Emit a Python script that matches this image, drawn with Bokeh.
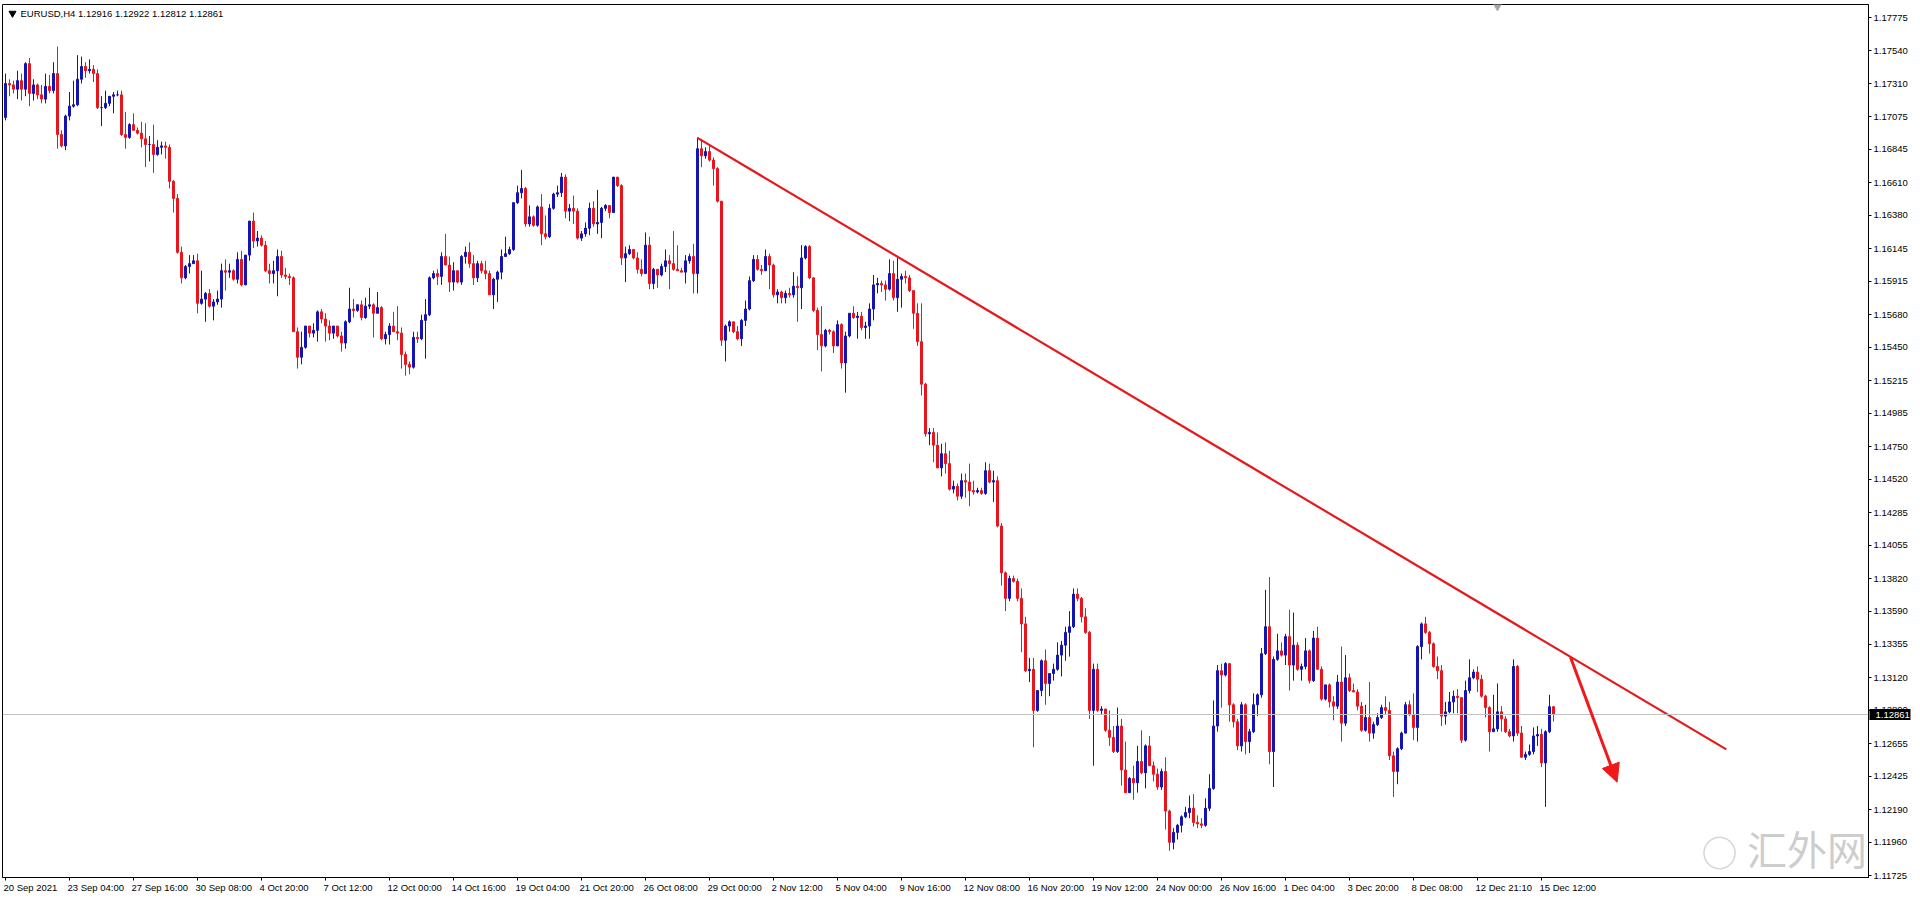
import numpy as np
from bokeh.plotting import figure
from bokeh.models import (FixedTicker, PrintfTickFormatter, Span, Label, Arrow,
                          NormalHead, ColumnDataSource, LinearAxis)
from bokeh.embed import file_html
from bokeh.resources import INLINE

# ---------------- data (EURUSD H4) ----------------
header_text = "EURUSD,H4  1.12916 1.12922 1.12812 1.12861"
last_price = 1.12861
last_open = 1.12916
first_open = 1.1707

close = [
    1.1731, 1.1730, 1.1727, 1.1733, 1.1727, 1.1745, 1.1724, 1.1730, 1.1723, 1.1720,
    1.1729, 1.1726, 1.1738, 1.1695, 1.1687, 1.1708, 1.1715, 1.1716, 1.1734, 1.1743,
    1.1740, 1.1741, 1.1738, 1.1714, 1.1714, 1.1717, 1.1722, 1.1723, 1.1723, 1.1695,
    1.1693, 1.1702, 1.1698, 1.1696, 1.1692, 1.1688, 1.1688, 1.1681, 1.1686, 1.1687,
    1.1686, 1.1662, 1.1650, 1.1612, 1.1594, 1.1602, 1.1604, 1.1606, 1.1576, 1.1579,
    1.1583, 1.1574, 1.1577, 1.1579, 1.1599, 1.1598, 1.1599, 1.1593, 1.1607, 1.1589,
    1.1610, 1.1634, 1.1620, 1.1622, 1.1617, 1.1599, 1.1597, 1.1599, 1.1609, 1.1596,
    1.1595, 1.1594, 1.1556, 1.1538, 1.1545, 1.1560, 1.1555, 1.1557, 1.1570, 1.1565,
    1.1560, 1.1555, 1.1560, 1.1553, 1.1548, 1.1563, 1.1572, 1.1571, 1.1575, 1.1566,
    1.1574, 1.1575, 1.1569, 1.1573, 1.1551, 1.1554, 1.1560, 1.1556, 1.1555,
    1.1540, 1.1533, 1.1531, 1.1552, 1.1551, 1.1564, 1.1568, 1.1594, 1.1597, 1.1595,
    1.1609, 1.1603, 1.1591, 1.1599, 1.1591, 1.1609, 1.1612, 1.1604, 1.1594, 1.1604,
    1.1599, 1.1597, 1.1582, 1.1593, 1.1598, 1.1609, 1.1611, 1.1614, 1.1647, 1.1654,
    1.1657, 1.1632, 1.1637, 1.1631, 1.1644, 1.1625, 1.1623, 1.1643, 1.1653, 1.1654,
    1.1665, 1.1641, 1.1643, 1.1641, 1.1622, 1.1625, 1.1629, 1.1643, 1.1632, 1.1633,
    1.1643, 1.1645, 1.1640, 1.1665, 1.1659, 1.1608, 1.1611, 1.1614, 1.1608, 1.1600,
    1.1597, 1.1617, 1.1590, 1.1600, 1.1596, 1.1602, 1.1606, 1.1604, 1.1600, 1.1599,
    1.1598, 1.1606, 1.1609, 1.1597, 1.1685, 1.1680, 1.1683, 1.1677, 1.1671, 1.1648,
    1.1550, 1.1560, 1.1563, 1.1556, 1.1551, 1.1564, 1.1572, 1.1592, 1.1607, 1.1600,
    1.1599, 1.1609, 1.1603, 1.1582, 1.1584,
    1.1580, 1.1583, 1.1582, 1.1588, 1.1587, 1.1608, 1.1616, 1.1594, 1.1571, 1.1554,
    1.1546, 1.1557, 1.1556, 1.1546, 1.1561, 1.1534, 1.1553, 1.1569, 1.1566, 1.1567,
    1.1559, 1.1560, 1.1572, 1.1589, 1.1590, 1.1589, 1.1586, 1.1597, 1.1580, 1.1593,
    1.1595, 1.1594, 1.1585, 1.1569, 1.1549, 1.1519, 1.1484, 1.1485, 1.1476, 1.1460,
    1.1470, 1.1463, 1.1445, 1.1447, 1.1440, 1.1451, 1.1450, 1.1444, 1.1443, 1.1444,
    1.1442, 1.1458, 1.1450, 1.1451, 1.1419, 1.1386, 1.1368, 1.1382, 1.1380, 1.1368,
    1.1350, 1.1317, 1.1318, 1.1289, 1.1303, 1.1324, 1.1308, 1.1315, 1.1318, 1.1328,
    1.1335, 1.1344, 1.1348, 1.1371, 1.1368, 1.1355, 1.1344, 1.1289, 1.1318, 1.1289,
    1.1290, 1.1275, 1.1270, 1.1260, 1.1278, 1.1247, 1.1231, 1.1241, 1.1238, 1.1253,
    1.1245, 1.1264, 1.1250, 1.1244, 1.1235, 1.1246, 1.1218, 1.1196,
    1.1203, 1.1208, 1.1214, 1.1217, 1.1220, 1.1210, 1.1209, 1.1208, 1.1220, 1.1234,
    1.1278, 1.1317, 1.1314, 1.1322, 1.1293, 1.1281, 1.1264, 1.1293, 1.1267, 1.1274,
    1.1293, 1.1300, 1.1329, 1.1348, 1.1260, 1.1325, 1.1331, 1.1328, 1.1341, 1.1321,
    1.1335, 1.1318, 1.1320, 1.1331, 1.1310, 1.1340, 1.1318, 1.1297, 1.1307, 1.1295,
    1.1292, 1.1309, 1.1280, 1.1312, 1.1303, 1.1302, 1.1292, 1.1275, 1.1284, 1.1273,
    1.1279, 1.1284, 1.1291, 1.1289, 1.1257, 1.1246, 1.1262, 1.1273, 1.1293, 1.1286,
    1.1277, 1.1334, 1.1350, 1.1344, 1.1336, 1.1320, 1.1317, 1.1285, 1.1288, 1.1295,
    1.1299, 1.1298, 1.1268, 1.1303, 1.1312, 1.1316, 1.1311, 1.1299, 1.1291, 1.1274,
    1.1276, 1.1288, 1.1283, 1.1274, 1.1271, 1.1320, 1.1273, 1.1256, 1.1258, 1.1260,
    1.1271, 1.1272, 1.1252, 1.1274, 1.12916, 1.12861,
]

high = [
    1.1738, 1.1734, 1.1733, 1.1740, 1.1738, 1.1746, 1.1749, 1.1734, 1.1731, 1.1730,
    1.1738, 1.1737, 1.1746, 1.1757, 1.1698, 1.1709, 1.1725, 1.1733, 1.1751, 1.1750,
    1.1746, 1.1748, 1.1744, 1.1741, 1.1722, 1.1726, 1.1722, 1.1725, 1.1726, 1.1726,
    1.1711, 1.1703, 1.1710, 1.1700, 1.1704, 1.1703, 1.1694, 1.1702, 1.1691, 1.1690,
    1.1690, 1.1688, 1.1663, 1.1653, 1.1616, 1.1603, 1.1610, 1.1610, 1.1611, 1.1599,
    1.1584, 1.1586, 1.1579, 1.1585, 1.1604, 1.1607, 1.1604, 1.1600, 1.1612, 1.1613,
    1.1610, 1.1634, 1.1640, 1.1627, 1.1624, 1.1620, 1.1604, 1.1606, 1.1614, 1.1613,
    1.1601, 1.1597, 1.1595, 1.1559, 1.1556, 1.1560, 1.1560, 1.1562, 1.1571, 1.1572,
    1.1569, 1.1564, 1.1560, 1.1560, 1.1556, 1.1564, 1.1587, 1.1579, 1.1575, 1.1578,
    1.1580, 1.1587, 1.1576, 1.1584, 1.1574, 1.1556, 1.1562, 1.1570, 1.1574,
    1.1559, 1.1542, 1.1535, 1.1556, 1.1556, 1.1568, 1.1579, 1.1595, 1.1599, 1.1600,
    1.1612, 1.1625, 1.1609, 1.1605, 1.1599, 1.1610, 1.1616, 1.1619, 1.1610, 1.1606,
    1.1606, 1.1606, 1.1599, 1.1594, 1.1599, 1.1614, 1.1623, 1.1616, 1.1647, 1.1659,
    1.1670, 1.1658, 1.1645, 1.1638, 1.1645, 1.1653, 1.1638, 1.1646, 1.1654, 1.1659,
    1.1668, 1.1667, 1.1646, 1.1652, 1.1643, 1.1627, 1.1633, 1.1647, 1.1648, 1.1656,
    1.1644, 1.1646, 1.1645, 1.1665, 1.1665, 1.1660, 1.1616, 1.1617, 1.1614, 1.1612,
    1.1607, 1.1626, 1.1623, 1.1601, 1.1600, 1.1604, 1.1614, 1.1610, 1.1627, 1.1617,
    1.1601, 1.1610, 1.1611, 1.1618, 1.1693, 1.1692, 1.1686, 1.1688, 1.1679, 1.1672,
    1.1648, 1.1561, 1.1564, 1.1561, 1.1560, 1.1565, 1.1578, 1.1595, 1.1610, 1.1610,
    1.1603, 1.1614, 1.1611, 1.1604, 1.1586,
    1.1585, 1.1585, 1.1587, 1.1598, 1.1595, 1.1617, 1.1617, 1.1617, 1.1594, 1.1573,
    1.1574, 1.1558, 1.1558, 1.1557, 1.1564, 1.1562, 1.1556, 1.1569, 1.1574, 1.1570,
    1.1570, 1.1563, 1.1576, 1.1596, 1.1594, 1.1592, 1.1592, 1.1607, 1.1606, 1.1608,
    1.1597, 1.1599, 1.1596, 1.1585, 1.1576, 1.1576, 1.1520, 1.1488, 1.1488, 1.1485,
    1.1477, 1.1478, 1.1472, 1.1451, 1.1449, 1.1456, 1.1456, 1.1463, 1.1451, 1.1446,
    1.1446, 1.1464, 1.1463, 1.1458, 1.1454, 1.1421, 1.1387, 1.1384, 1.1384, 1.1382,
    1.1375, 1.1355, 1.1326, 1.1326, 1.1303, 1.1325, 1.1332, 1.1315, 1.1322, 1.1337,
    1.1338, 1.1348, 1.1359, 1.1375, 1.1375, 1.1369, 1.1361, 1.1345, 1.1322, 1.1322,
    1.1292, 1.1284, 1.1289, 1.1278, 1.1291, 1.1283, 1.1267, 1.1242, 1.1250, 1.1264,
    1.1275, 1.1265, 1.1271, 1.1253, 1.1248, 1.1248, 1.1256, 1.1219,
    1.1206, 1.1209, 1.1215, 1.1221, 1.1229, 1.1230, 1.1215, 1.1213, 1.1227, 1.1244,
    1.1296, 1.1321, 1.1322, 1.1323, 1.1309, 1.1294, 1.1283, 1.1295, 1.1294, 1.1276,
    1.1301, 1.1301, 1.1333, 1.1374, 1.1383, 1.1327, 1.1343, 1.1337, 1.1343, 1.1360,
    1.1358, 1.1337, 1.1322, 1.1340, 1.1332, 1.1345, 1.1348, 1.1320, 1.1307, 1.1308,
    1.1299, 1.1314, 1.1334, 1.1328, 1.1315, 1.1308, 1.1304, 1.1295, 1.1293, 1.1309,
    1.1281, 1.1287, 1.1293, 1.1299, 1.1295, 1.1260, 1.1263, 1.1274, 1.1295, 1.1296,
    1.1301, 1.1335, 1.1351, 1.1355, 1.1345, 1.1337, 1.1327, 1.1321, 1.1295, 1.1302,
    1.1303, 1.1304, 1.1296, 1.1310, 1.1325, 1.1318, 1.1320, 1.1314, 1.1300, 1.1292,
    1.1300, 1.1308, 1.1292, 1.1285, 1.1276, 1.1325, 1.1321, 1.1278, 1.1260, 1.1265,
    1.1277, 1.1278, 1.1276, 1.1275, 1.1300, 1.12922,
]

low = [
    1.1705, 1.1722, 1.1724, 1.1720, 1.1719, 1.1722, 1.1715, 1.1719, 1.1720, 1.1717,
    1.1717, 1.1724, 1.1724, 1.1685, 1.1686, 1.1684, 1.1705, 1.1714, 1.1715, 1.1731,
    1.1735, 1.1738, 1.1732, 1.1713, 1.1701, 1.1713, 1.1715, 1.1710, 1.1722, 1.1694,
    1.1685, 1.1692, 1.1698, 1.1695, 1.1686, 1.1672, 1.1676, 1.1668, 1.1680, 1.1681,
    1.1678, 1.1657, 1.1640, 1.1611, 1.1590, 1.1593, 1.1597, 1.1604, 1.1569, 1.1575,
    1.1563, 1.1573, 1.1564, 1.1575, 1.1573, 1.1585, 1.1594, 1.1592, 1.1590, 1.1588,
    1.1589, 1.1606, 1.1615, 1.1616, 1.1616, 1.1598, 1.1590, 1.1590, 1.1581, 1.1594,
    1.1593, 1.1589, 1.1556, 1.1530, 1.1533, 1.1544, 1.1552, 1.1552, 1.1549, 1.1562,
    1.1549, 1.1550, 1.1551, 1.1552, 1.1542, 1.1544, 1.1562, 1.1566, 1.1570, 1.1564,
    1.1565, 1.1572, 1.1552, 1.1569, 1.1550, 1.1547, 1.1547, 1.1556, 1.1550,
    1.1530, 1.1525, 1.1526, 1.1530, 1.1548, 1.1550, 1.1537, 1.1567, 1.1593, 1.1589,
    1.1589, 1.1603, 1.1584, 1.1585, 1.1590, 1.1589, 1.1604, 1.1601, 1.1589, 1.1591,
    1.1597, 1.1593, 1.1582, 1.1572, 1.1577, 1.1593, 1.1609, 1.1610, 1.1613, 1.1646,
    1.1650, 1.1630, 1.1630, 1.1630, 1.1630, 1.1617, 1.1621, 1.1622, 1.1642, 1.1651,
    1.1651, 1.1636, 1.1634, 1.1632, 1.1621, 1.1620, 1.1623, 1.1624, 1.1630, 1.1625,
    1.1622, 1.1641, 1.1636, 1.1640, 1.1658, 1.1603, 1.1591, 1.1610, 1.1607, 1.1597,
    1.1595, 1.1597, 1.1586, 1.1586, 1.1587, 1.1595, 1.1598, 1.1586, 1.1599, 1.1599,
    1.1598, 1.1590, 1.1604, 1.1583, 1.1583, 1.1672, 1.1678, 1.1676, 1.1659, 1.1647,
    1.1546, 1.1535, 1.1556, 1.1555, 1.1550, 1.1546, 1.1560, 1.1571, 1.1591, 1.1599,
    1.1596, 1.1599, 1.1586, 1.1580, 1.1576,
    1.1576, 1.1576, 1.1580, 1.1580, 1.1563, 1.1572, 1.1607, 1.1593, 1.1570, 1.1543,
    1.1528, 1.1545, 1.1554, 1.1541, 1.1546, 1.1530, 1.1513, 1.1552, 1.1565, 1.1551,
    1.1557, 1.1551, 1.1551, 1.1564, 1.1583, 1.1584, 1.1578, 1.1585, 1.1578, 1.1570,
    1.1573, 1.1590, 1.1584, 1.1558, 1.1546, 1.1511, 1.1482, 1.1476, 1.1464, 1.1460,
    1.1454, 1.1456, 1.1444, 1.1442, 1.1437, 1.1438, 1.1439, 1.1433, 1.1441, 1.1442,
    1.1441, 1.1441, 1.1449, 1.1436, 1.1418, 1.1377, 1.1359, 1.1366, 1.1379, 1.1366,
    1.1330, 1.1316, 1.1309, 1.1263, 1.1288, 1.1299, 1.1293, 1.1299, 1.1310, 1.1317,
    1.1313, 1.1324, 1.1327, 1.1347, 1.1366, 1.1351, 1.1343, 1.1283, 1.1250, 1.1288,
    1.1286, 1.1274, 1.1264, 1.1259, 1.1259, 1.1236, 1.1231, 1.1231, 1.1226, 1.1231,
    1.1244, 1.1234, 1.1250, 1.1239, 1.1233, 1.1233, 1.1205, 1.1190,
    1.1191, 1.1198, 1.1203, 1.1213, 1.1213, 1.1207, 1.1206, 1.1206, 1.1207, 1.1218,
    1.1233, 1.1274, 1.1291, 1.1313, 1.1281, 1.1277, 1.1261, 1.1260, 1.1258, 1.1259,
    1.1273, 1.1285, 1.1298, 1.1328, 1.1251, 1.1235, 1.1324, 1.1327, 1.1321, 1.1303,
    1.1310, 1.1317, 1.1310, 1.1318, 1.1308, 1.1309, 1.1318, 1.1296, 1.1296, 1.1291,
    1.1282, 1.1290, 1.1267, 1.1278, 1.1302, 1.1303, 1.1289, 1.1274, 1.1274, 1.1267,
    1.1269, 1.1278, 1.1283, 1.1286, 1.1254, 1.1228, 1.1237, 1.1261, 1.1273, 1.1285,
    1.1268, 1.1267, 1.1325, 1.1343, 1.1329, 1.1319, 1.1311, 1.1278, 1.1279, 1.1287,
    1.1287, 1.1287, 1.1266, 1.1267, 1.1301, 1.1311, 1.1302, 1.1298, 1.1284, 1.1260,
    1.1274, 1.1274, 1.1274, 1.1273, 1.1270, 1.1267, 1.1271, 1.1256, 1.1254, 1.1257,
    1.1258, 1.1264, 1.1249, 1.1221, 1.1273, 1.12812,
]

xtick_bars = [0, 16, 32, 48, 64, 80, 96, 112, 128, 144, 160, 176, 192,
              208, 224, 240, 256, 272, 288, 304, 320, 336, 352, 368, 384]
xtick_labels = ["20 Sep 2021", "23 Sep 04:00", "27 Sep 16:00", "30 Sep 08:00",
                "4 Oct 20:00", "7 Oct 12:00", "12 Oct 00:00", "14 Oct 16:00",
                "19 Oct 04:00", "21 Oct 20:00", "26 Oct 08:00", "29 Oct 00:00",
                "2 Nov 12:00", "5 Nov 04:00", "9 Nov 16:00", "12 Nov 08:00",
                "16 Nov 20:00", "19 Nov 12:00", "24 Nov 00:00", "26 Nov 16:00",
                "1 Dec 04:00", "3 Dec 20:00", "8 Dec 08:00", "12 Dec 21:10",
                "15 Dec 12:00"]
ytick_values = [1.17775, 1.17540, 1.17310, 1.17075, 1.16845, 1.16610, 1.16380,
                1.16145, 1.15915, 1.15680, 1.15450, 1.15215, 1.14985, 1.14750,
                1.14520, 1.14285, 1.14055, 1.13820, 1.13590, 1.13355, 1.13120,
                1.12890, 1.12655, 1.12425, 1.12190, 1.11960, 1.11725]

# hand-drawn trend line and arrow (bar index, price)
trend_bar = [173, 430.2]
trend_price = [1.16927, 1.12615]
arrow_bar = [391.25, 402.9]
arrow_price = [1.13265, 1.12384]

assert len(close) == len(high) == len(low), (len(close), len(high), len(low))

# ---------------- build ----------------
BULL = "#1414b0"
BEAR = "#e8161c"
FONT = "Liberation Sans"
FS = 9.5

n = len(close)
x = np.arange(n)
c = np.array(close)
o = np.concatenate([[first_open], c[:-1]])
o[-1] = last_open
h = np.maximum.reduce([np.array(high), o, c])
l = np.minimum.reduce([np.array(low), o, c])
colors = [BULL if cc >= oo else BEAR for oo, cc in zip(o, c)]

src = ColumnDataSource(dict(x=x, top=np.maximum(o, c), bottom=np.minimum(o, c),
                            high=h, low=l, color=colors))

p = figure(frame_width=1866, frame_height=873,
           x_range=(-0.75, 465.75), y_range=(1.11712, 1.17867),
           y_axis_location="right", toolbar_location=None, output_backend="svg",
           min_border_left=2, min_border_top=4, min_border_right=0, min_border_bottom=0)
p.background_fill_color = "white"
p.border_fill_color = "white"
p.outline_line_color = "black"
p.outline_line_width = 1
p.grid.visible = False

p.segment(x0="x", x1="x", y0="low", y1="high", color="color", line_width=1, source=src)
p.vbar(x="x", width=0.5, top="top", bottom="bottom", fill_color="color",
       line_color="color", line_width=1, source=src)

# current price line
p.add_layout(Span(location=last_price, dimension="width", line_color="#c0c0c0", line_width=1))

# trend line and arrow
p.line(trend_bar, trend_price, line_color="#e41a1c", line_width=2.2)
p.add_layout(Arrow(end=NormalHead(size=18, fill_color="#f01818", line_color="#f01818"),
                   x_start=arrow_bar[0], y_start=arrow_price[0],
                   x_end=arrow_bar[1], y_end=arrow_price[1],
                   line_color="#f01818", line_width=3))

# ---- x axis: tick marks on the main axis, left-aligned labels on a second axis
xa = p.xaxis[0]
xa.ticker = FixedTicker(ticks=xtick_bars)
xa.major_label_overrides = {b: "" for b in xtick_bars}
xa.major_label_text_font_size = "1px"
xa.major_label_standoff = 0
xa.major_tick_out = 3
xa.major_tick_in = 0
xa.minor_tick_out = 0
xa.minor_tick_in = 0
xa.axis_line_color = "black"
xa.major_tick_line_color = "black"

# half width of each label (Liberation Sans advance widths, em units)
CW = {" ": .278, ":": .278, "S": .667, "e": .556, "p": .556, "O": .778, "c": .5,
      "t": .278, "N": .722, "o": .556, "v": .5, "D": .722}
def text_w(s):
    return sum(CW.get(ch, .556) for ch in s) * FS

PX_PER_BAR = 4.0
label_pos = [b + (text_w(t) / 2 - 2) / PX_PER_BAR for b, t in zip(xtick_bars, xtick_labels)]
xl = LinearAxis(ticker=FixedTicker(ticks=label_pos),
                major_label_overrides={pos: t for pos, t in zip(label_pos, xtick_labels)},
                axis_line_color=None, major_tick_out=0, major_tick_in=0,
                minor_tick_out=0, minor_tick_in=0, major_label_standoff=1,
                major_label_text_font=FONT, major_label_text_font_size="%spx" % FS,
                major_label_text_color="black")
p.add_layout(xl, "below")

# ---- y axis
ya = p.yaxis[0]
ya.ticker = FixedTicker(ticks=ytick_values)
ya.formatter = PrintfTickFormatter(format="%.5f")
ya.major_label_text_font = FONT
ya.major_label_text_font_size = "%spx" % FS
ya.major_label_text_color = "black"
ya.major_label_standoff = 2
ya.major_tick_out = 3
ya.major_tick_in = 0
ya.minor_tick_out = 0
ya.minor_tick_in = 0
ya.axis_line_color = "black"
ya.major_tick_line_color = "black"

# current price box on the price scale (black tick as box, white label)
pa = LinearAxis(ticker=FixedTicker(ticks=[last_price]),
                formatter=PrintfTickFormatter(format="%.5f"),
                axis_line_color=None, major_tick_out=0, major_tick_in=41,
                major_tick_line_width=11, major_tick_line_color="black",
                minor_tick_out=0, minor_tick_in=0, major_label_standoff=-35,
                major_label_text_font=FONT, major_label_text_font_size="%spx" % FS,
                major_label_text_color="white")
p.add_layout(pa, "right")

# header
p.scatter(x=[1.75], y=[1.17805], marker="inverted_triangle", size=7, color="black")
p.add_layout(Label(x=3.75, y=1.17805, text=header_text, text_font=FONT,
                   text_font_size="%spx" % FS, text_baseline="middle", text_color="black"))

# chart shift marker
p.scatter(x=[373], y=[1.17867], marker="inverted_triangle", size=11, color="#a8a8a8")

# watermark
p.add_layout(Label(x=424.0, y=1.11716, text="○", text_font="Noto Sans CJK SC",
                   text_font_size="36px", text_baseline="bottom", text_color="#c8c8c8",
                   text_alpha=0.8))
p.add_layout(Label(x=465.4, y=1.11716, text="汇外网", text_font="Noto Sans CJK SC",
                   text_font_size="40px", text_baseline="bottom", text_align="right",
                   text_color="#bdbdbd", text_alpha=0.75))

open("out.html", "w").write(file_html(p, INLINE))
